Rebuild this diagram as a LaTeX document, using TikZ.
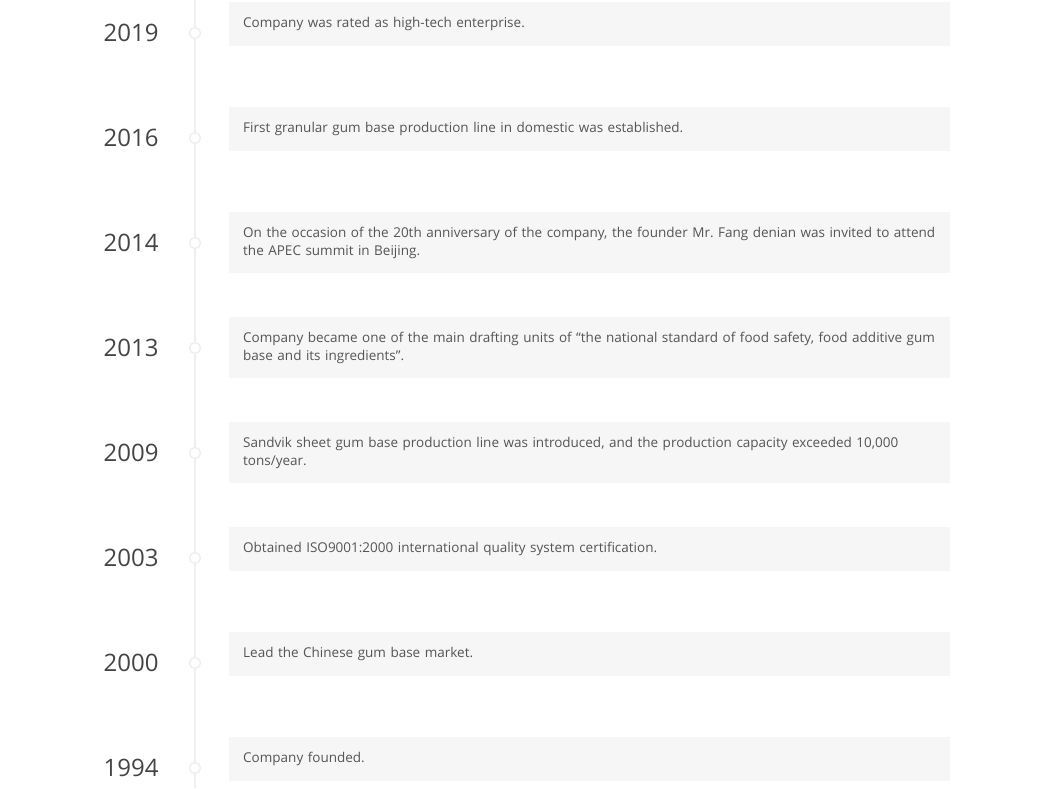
\documentclass[tikz,border=0pt]{standalone}
\usepackage{fontspec}
\setmainfont{Open Sans}
\usetikzlibrary{positioning}
\definecolor{boxgray}{HTML}{F6F6F6}
\definecolor{linegray}{HTML}{EFEFEF}
\definecolor{textgray}{HTML}{555555}
\definecolor{yeargray}{HTML}{444444}
\begin{document}
\begin{tikzpicture}[x=1pt, y=-1pt,
    year/.style={text=yeargray, font=\fontsize{24}{28}\selectfont, inner sep=0pt},
    dot/.style={circle, draw=linegray, fill=white, line width=1.5pt, minimum size=11pt, inner sep=0pt},
    event/.style={fill=boxgray, anchor=north west, text=textgray, font=\fontsize{13.5}{18}\selectfont,
        text width=693pt, inner xsep=14pt, inner ysep=0pt, align=left}]
        \useasboundingbox (0, 0) rectangle (1050, 788);

        \coordinate (top) at (195, 0);
        \coordinate (bottom) at (195, 788);
        \draw[linegray, line width=2pt] (top) -- (bottom);

        \node[dot] (d2019) at (195, 33) {};
        \node[dot] (d2016) at (195, 138) {};
        \node[dot] (d2014) at (195, 243) {};
        \node[dot] (d2013) at (195, 348) {};
        \node[dot] (d2009) at (195, 453) {};
        \node[dot] (d2003) at (195, 558) {};
        \node[dot] (d2000) at (195, 663) {};
        \node[dot] (d1994) at (195, 768) {};

        \node[year, left=30pt of d2019] (y2019) {2019};
        \node[year, left=30pt of d2016] (y2016) {2016};
        \node[year, left=30pt of d2014] (y2014) {2014};
        \node[year, left=30pt of d2013] (y2013) {2013};
        \node[year, left=30pt of d2009] (y2009) {2009};
        \node[year, left=30pt of d2003] (y2003) {2003};
        \node[year, left=30pt of d2000] (y2000) {2000};
        \node[year, left=30pt of d1994] (y1994) {1994};

        \node[event, minimum height=44pt] (e2019) at (229, 2) {Company was rated as high-tech enterprise.};
        \node[event, minimum height=44pt] (e2016) at (229, 107) {First granular gum base production line in domestic was established.};
        \node[event, minimum height=61pt] (e2014) at (229, 212) {\mbox{On the occasion of the 20th anniversary of the company, the founder Mr.~Fang denian was invited to attend}\\the APEC summit in Beijing.};
        \node[event, minimum height=61pt] (e2013) at (229, 317) {Company became one of the main drafting units of “the national standard of food safety, food additive gum\\base and its ingredients”.};
        \node[event, minimum height=61pt] (e2009) at (229, 422) {Sandvik sheet gum base production line was introduced, and the production capacity exceeded 10,000\\tons/year.};
        \node[event, minimum height=44pt] (e2003) at (229, 527) {Obtained ISO9001:2000 international quality system certification.};
        \node[event, minimum height=44pt] (e2000) at (229, 632) {Lead the Chinese gum base market.};
        \node[event, minimum height=44pt] (e1994) at (229, 737) {Company founded.};
    \end{tikzpicture}
\end{document}
